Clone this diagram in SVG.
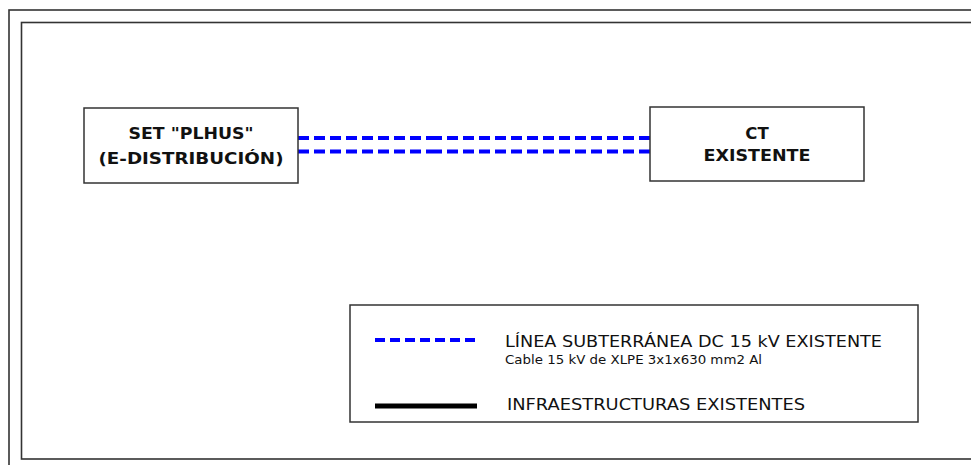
<svg xmlns="http://www.w3.org/2000/svg" width="971" height="465" viewBox="0 0 971 465">
<style>
.frame{fill:none;stroke:#333;stroke-width:1.6}
.box{fill:#fff;stroke:#333;stroke-width:1.5}
.bt{font-family:"DejaVu Sans",Verdana,sans-serif;font-weight:bold;font-size:16.5px;fill:#111;text-anchor:middle}
.lt{font-family:"DejaVu Sans",Verdana,sans-serif;fill:#111}
.cable{fill:none;stroke:#0000ff;stroke-width:4;stroke-dasharray:11 5}
</style>
<rect width="971" height="465" fill="#fff"/>
<rect class="frame" x="9" y="10" width="1000" height="500"/>
<rect class="frame" x="21.5" y="22.5" width="1000" height="436.5"/>
<g id="connectors">
<path class="cable" d="M298 138H431M298 151.5H431"/>
<path class="cable" d="M431 138H650M431 151.5H650"/>
</g>
<g id="set-plhus">
<rect class="box" x="84" y="108" width="214" height="75"/>
<text class="bt" x="191" y="138.5" textLength="125" lengthAdjust="spacingAndGlyphs">SET "PLHUS"</text>
<text class="bt" x="191" y="163.5" textLength="185" lengthAdjust="spacingAndGlyphs">(E-DISTRIBUCIÓN)</text>
</g>
<g id="ct-existente">
<rect class="box" x="650" y="107" width="214" height="74"/>
<text class="bt" x="757" y="139">CT</text>
<text class="bt" x="757" y="161" textLength="107" lengthAdjust="spacingAndGlyphs">EXISTENTE</text>
</g>
<g id="legend">
<rect class="box" x="350" y="305" width="568" height="117"/>
<line x1="375" y1="340" x2="477" y2="340" stroke="#0000ff" stroke-width="4" stroke-dasharray="10 5"/>
<line x1="375" y1="406" x2="477" y2="406" stroke="#000" stroke-width="5"/>
<text class="lt" x="505" y="347" font-size="16.5" textLength="377" lengthAdjust="spacingAndGlyphs">LÍNEA SUBTERRÁNEA DC 15 kV EXISTENTE</text>
<text class="lt" x="505" y="364" font-size="12" textLength="257" lengthAdjust="spacingAndGlyphs">Cable 15 kV de XLPE 3x1x630 mm2 Al</text>
<text class="lt" x="507" y="409.5" font-size="16.5" textLength="298" lengthAdjust="spacingAndGlyphs">INFRAESTRUCTURAS EXISTENTES</text>
</g>
</svg>
